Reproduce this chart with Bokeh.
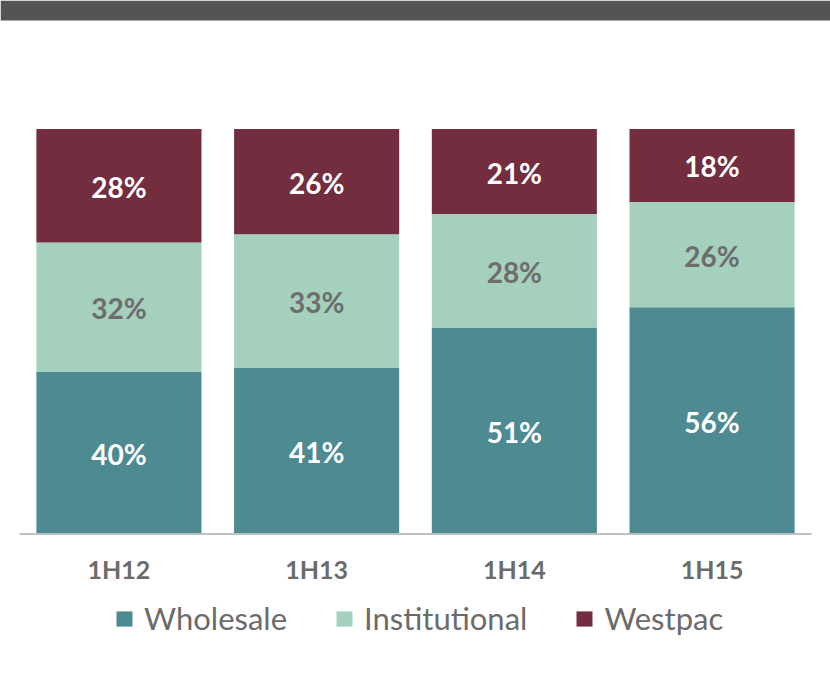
from bokeh.plotting import figure
from bokeh.models import (ColumnDataSource, Range1d, FactorRange, LabelSet, Legend, LegendItem,
                          BoxAnnotation, CategoricalAxis)
from bokeh.core.properties import value
from bokeh.embed import file_html
from bokeh.resources import INLINE

periods = ["1H12", "1H13", "1H14", "1H15"]
wholesale = [40, 41, 51, 56]
institutional = [32, 33, 28, 26]
westpac = [28, 26, 21, 18]
series = ["Wholesale", "Institutional", "Westpac"]
colors = ["#4e8a91", "#a4d0bd", "#722e3e"]
label_colors = ["#ffffff", "#6d6d6d", "#ffffff"]

data = {"period": periods, "Wholesale": wholesale, "Institutional": institutional, "Westpac": westpac}
source = ColumnDataSource(data)

p = figure(x_range=FactorRange(*periods, range_padding=0.099, range_padding_units="absolute"),
           y_range=Range1d(-38.89, 131.73),
           frame_width=830, frame_height=691, min_border_left=0, min_border_right=0,
           min_border_top=0, min_border_bottom=0, y_axis_location=None, x_axis_location=None,
           output_backend="svg", toolbar_location=None)
p.outline_line_color = None
p.xgrid.grid_line_color = None
p.ygrid.grid_line_color = None
p.background_fill_color = "white"
p.border_fill_color = "white"

renderers = p.vbar_stack(series, x="period", width=0.835, source=source,
                         color=colors, line_color=None)

# header bar
p.add_layout(BoxAnnotation(left=0, right=830, top=0, bottom=20,
                           left_units="canvas", right_units="canvas",
                           top_units="canvas", bottom_units="canvas",
                           fill_color="#545456", fill_alpha=1, line_color=None, level="overlay"))
# baseline
p.add_layout(BoxAnnotation(left=19, right=811, top=532.5, bottom=534.5,
                           left_units="canvas", right_units="canvas",
                           top_units="canvas", bottom_units="canvas",
                           fill_color="#bfbfbf", fill_alpha=1, line_color=None, level="overlay"))

# segment labels
bottoms = [0, 0, 0, 0]
for name, vals, lc in zip(series, [wholesale, institutional, westpac], label_colors):
    mids = [b + v / 2 for b, v in zip(bottoms, vals)]
    bottoms = [b + v for b, v in zip(bottoms, vals)]
    src = ColumnDataSource(dict(period=periods, y=mids, text=[f"{v}%" for v in vals]))
    p.add_layout(LabelSet(x="period", y="y", text="text", source=src, y_offset=-1,
                          text_align="center", text_baseline="middle",
                          text_font=value("Lato"), text_font_style="bold",
                          text_font_size="28px", text_color=lc))

ax = CategoricalAxis(fixed_location=0)
ax.axis_line_color = None
ax.major_tick_line_color = None
ax.minor_tick_line_color = None
ax.major_tick_out = 0
ax.major_tick_in = 0
ax.major_label_standoff = 20
ax.major_label_text_font = "Lato"
ax.major_label_text_font_style = "bold"
ax.major_label_text_font_size = "25px"
ax.major_label_text_color = "#6b6b6b"
p.add_layout(ax, "below")

legend = Legend(items=[LegendItem(label=s, renderers=[r]) for s, r in zip(series, renderers)],
                orientation="horizontal", location=(114, 54),
                glyph_width=20, glyph_height=19, label_standoff=10, spacing=47,
                label_text_font="Lato", label_text_font_size="31px", label_text_color="#6b6b6b",
                border_line_color=None, background_fill_alpha=0, padding=0, margin=0)
p.add_layout(legend)

open("out.html", "w").write(file_html(p, INLINE))
